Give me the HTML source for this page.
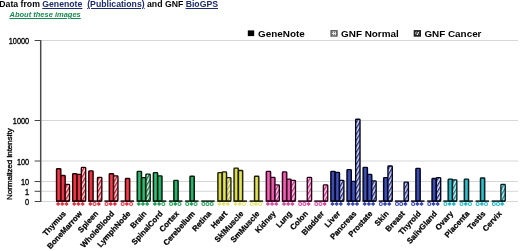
<!DOCTYPE html>
<html><head><meta charset="utf-8"><title>Expression chart</title>
<style>
html,body{margin:0;padding:0;background:#fff;}
body{width:520px;height:251px;overflow:hidden;position:relative;font-family:"Liberation Sans",Arial,sans-serif;}
svg,.hdr,.abt{filter:blur(0.35px);}
svg text{font-family:"Liberation Sans",Arial,sans-serif;}
.hdr{position:absolute;left:-0.7px;top:0px;font-size:8.7px;font-weight:bold;line-height:9px;white-space:pre;color:#000;}
.hdr a{color:#1c2a6e;text-decoration:underline;}
.abt{position:absolute;left:9.5px;top:9.9px;font-size:7.5px;font-weight:bold;font-style:italic;line-height:9px;white-space:pre;}
.abt a{color:#1a8a52;text-decoration:underline;}
</style></head><body>
<svg width="520" height="251" viewBox="0 0 520 251" style="position:absolute;left:0;top:0">
<defs>
<linearGradient id="g_red" x1="0" x2="1" y1="0" y2="0"><stop offset="0" stop-color="#c81428"/><stop offset="0.5" stop-color="#f04050"/><stop offset="1" stop-color="#c81428"/></linearGradient>
<pattern id="h_red" width="3" height="3" patternUnits="userSpaceOnUse" patternTransform="rotate(-60)"><rect width="3" height="3" fill="#fbe0e4"/><rect width="3" height="1.4" fill="#c81428"/></pattern>
<linearGradient id="g_green" x1="0" x2="1" y1="0" y2="0"><stop offset="0" stop-color="#0c7c3c"/><stop offset="0.5" stop-color="#3cbc7c"/><stop offset="1" stop-color="#0c7c3c"/></linearGradient>
<pattern id="h_green" width="3" height="3" patternUnits="userSpaceOnUse" patternTransform="rotate(-60)"><rect width="3" height="3" fill="#dcf2e6"/><rect width="3" height="1.4" fill="#0c7c3c"/></pattern>
<linearGradient id="g_yellow" x1="0" x2="1" y1="0" y2="0"><stop offset="0" stop-color="#b0b028"/><stop offset="0.5" stop-color="#e2e468"/><stop offset="1" stop-color="#b0b028"/></linearGradient>
<pattern id="h_yellow" width="3" height="3" patternUnits="userSpaceOnUse" patternTransform="rotate(-60)"><rect width="3" height="3" fill="#f6f6d8"/><rect width="3" height="1.4" fill="#b0b028"/></pattern>
<linearGradient id="g_mag" x1="0" x2="1" y1="0" y2="0"><stop offset="0" stop-color="#c02c80"/><stop offset="0.5" stop-color="#ee68b4"/><stop offset="1" stop-color="#c02c80"/></linearGradient>
<pattern id="h_mag" width="3" height="3" patternUnits="userSpaceOnUse" patternTransform="rotate(-60)"><rect width="3" height="3" fill="#fbe0ee"/><rect width="3" height="1.4" fill="#c02c80"/></pattern>
<linearGradient id="g_blue" x1="0" x2="1" y1="0" y2="0"><stop offset="0" stop-color="#1c2a84"/><stop offset="0.5" stop-color="#4656b8"/><stop offset="1" stop-color="#1c2a84"/></linearGradient>
<pattern id="h_blue" width="3" height="3" patternUnits="userSpaceOnUse" patternTransform="rotate(-60)"><rect width="3" height="3" fill="#e0e4f8"/><rect width="3" height="1.4" fill="#1c2a84"/></pattern>
<linearGradient id="g_teal" x1="0" x2="1" y1="0" y2="0"><stop offset="0" stop-color="#0c8890"/><stop offset="0.5" stop-color="#38c0c8"/><stop offset="1" stop-color="#0c8890"/></linearGradient>
<pattern id="h_teal" width="3" height="3" patternUnits="userSpaceOnUse" patternTransform="rotate(-60)"><rect width="3" height="3" fill="#d8f2f6"/><rect width="3" height="1.4" fill="#0c8890"/></pattern>
<pattern id="dots" width="2" height="2" patternUnits="userSpaceOnUse"><rect width="2" height="2" fill="#e8e8e8"/><rect width="1" height="1" fill="#777"/></pattern>
<pattern id="hat" width="2.4" height="2.4" patternUnits="userSpaceOnUse" patternTransform="rotate(-60)"><rect width="2.4" height="2.4" fill="#eee"/><rect width="2.4" height="1.3" fill="#333"/></pattern>
</defs>
<line x1="41" x2="518" y1="40.5" y2="40.5" stroke="#d6d6d6" stroke-width="1"/>
<line x1="34.6" x2="41" y1="40.5" y2="40.5" stroke="#444" stroke-width="1"/>
<line x1="41" x2="518" y1="120.5" y2="120.5" stroke="#d6d6d6" stroke-width="1"/>
<line x1="34.6" x2="41" y1="120.5" y2="120.5" stroke="#444" stroke-width="1"/>
<line x1="41" x2="518" y1="161" y2="161" stroke="#d6d6d6" stroke-width="1"/>
<line x1="34.6" x2="41" y1="161" y2="161" stroke="#444" stroke-width="1"/>
<line x1="41" x2="518" y1="181.5" y2="181.5" stroke="#d6d6d6" stroke-width="1"/>
<line x1="34.6" x2="41" y1="181.5" y2="181.5" stroke="#444" stroke-width="1"/>
<line x1="41" x2="518" y1="191.3" y2="191.3" stroke="#d6d6d6" stroke-width="1"/>
<line x1="34.6" x2="41" y1="191.3" y2="191.3" stroke="#444" stroke-width="1"/>
<line x1="41" x2="518" y1="201.5" y2="201.5" stroke="#d6d6d6" stroke-width="1"/>
<line x1="34.6" x2="41" y1="201.5" y2="201.5" stroke="#444" stroke-width="1"/>
<line x1="40.7" x2="40.7" y1="40" y2="202" stroke="#4a4a4a" stroke-width="1.5"/>
<text transform="translate(29.2,44.4) scale(0.82,1)" text-anchor="end" font-size="9" fill="#000" stroke="#000" stroke-width="0.35">10000</text>
<text transform="translate(29.2,124.4) scale(0.82,1)" text-anchor="end" font-size="9" fill="#000" stroke="#000" stroke-width="0.35">1000</text>
<text transform="translate(29.2,164.9) scale(0.82,1)" text-anchor="end" font-size="9" fill="#000" stroke="#000" stroke-width="0.35">100</text>
<text transform="translate(29.2,185.4) scale(0.82,1)" text-anchor="end" font-size="9" fill="#000" stroke="#000" stroke-width="0.35">10</text>
<text transform="translate(29.2,195.20000000000002) scale(0.82,1)" text-anchor="end" font-size="9" fill="#000" stroke="#000" stroke-width="0.35">1</text>
<text transform="translate(29.2,205.4) scale(0.82,1)" text-anchor="end" font-size="9" fill="#000" stroke="#000" stroke-width="0.35">0</text>
<text transform="translate(12.2,199.9) scale(0.92,1) rotate(-90)" font-size="8.2" textLength="71.5" lengthAdjust="spacingAndGlyphs" fill="#000" stroke="#000" stroke-width="0.35">Normalized intensity</text>
<line x1="56.00" x2="69.45" y1="201.1" y2="201.1" stroke="#240004" stroke-width="1.5"/>
<rect x="56.50" y="168.70" width="4.35" height="32.30" rx="0.8" fill="url(#g_red)" stroke="#240004" stroke-width="1.35"/>
<path d="M58.10 201.7 l2.2 2.2 l-2.2 2.2 l-2.2 -2.2z" fill="#e83040"/>
<rect x="60.85" y="175.50" width="4.35" height="25.50" rx="0.8" fill="url(#g_red)" stroke="#240004" stroke-width="1.35"/>
<path d="M62.30 201.7 l2.2 2.2 l-2.2 2.2 l-2.2 -2.2z" fill="#e83040"/>
<rect x="65.20" y="184.40" width="4.35" height="16.60" rx="0.8" fill="url(#h_red)" stroke="#240004" stroke-width="1.35"/>
<path d="M66.50 201.7 l2.2 2.2 l-2.2 2.2 l-2.2 -2.2z" fill="#e83040"/>
<text transform="translate(66.40,214.0) rotate(-48)" text-anchor="end" font-size="7.9" font-weight="bold" fill="#000" stroke="#000" stroke-width="0.25">Thymus</text>
<line x1="72.14" x2="85.59" y1="201.1" y2="201.1" stroke="#240004" stroke-width="1.5"/>
<rect x="72.64" y="173.70" width="4.35" height="27.30" rx="0.8" fill="url(#g_red)" stroke="#240004" stroke-width="1.35"/>
<path d="M74.24 201.7 l2.2 2.2 l-2.2 2.2 l-2.2 -2.2z" fill="#e83040"/>
<rect x="76.99" y="174.40" width="4.35" height="26.60" rx="0.8" fill="url(#g_red)" stroke="#240004" stroke-width="1.35"/>
<path d="M78.44 201.7 l2.2 2.2 l-2.2 2.2 l-2.2 -2.2z" fill="#e83040"/>
<rect x="81.34" y="167.30" width="4.35" height="33.70" rx="0.8" fill="url(#h_red)" stroke="#240004" stroke-width="1.35"/>
<path d="M82.64 201.7 l2.2 2.2 l-2.2 2.2 l-2.2 -2.2z" fill="#e83040"/>
<text transform="translate(82.54,214.0) rotate(-48)" text-anchor="end" font-size="7.9" font-weight="bold" fill="#000" stroke="#000" stroke-width="0.25">BoneMarrow</text>
<line x1="88.27" x2="101.72" y1="201.1" y2="201.1" stroke="#240004" stroke-width="1.5"/>
<rect x="88.77" y="170.80" width="4.35" height="30.20" rx="0.8" fill="url(#g_red)" stroke="#240004" stroke-width="1.35"/>
<path d="M90.37 201.7 l2.2 2.2 l-2.2 2.2 l-2.2 -2.2z" fill="#e83040"/>
<circle cx="94.57" cy="203.9" r="1.5" fill="#fff" stroke="#e83040" stroke-width="1.05"/>
<rect x="97.47" y="177.30" width="4.35" height="23.70" rx="0.8" fill="url(#h_red)" stroke="#240004" stroke-width="1.35"/>
<path d="M98.77 201.7 l2.2 2.2 l-2.2 2.2 l-2.2 -2.2z" fill="#e83040"/>
<text transform="translate(98.67,214.0) rotate(-48)" text-anchor="end" font-size="7.9" font-weight="bold" fill="#000" stroke="#000" stroke-width="0.25">Spleen</text>
<line x1="104.41" x2="117.86" y1="201.1" y2="201.1" stroke="#240004" stroke-width="1.5"/>
<circle cx="106.51" cy="203.9" r="1.5" fill="#fff" stroke="#e83040" stroke-width="1.05"/>
<rect x="109.26" y="173.70" width="4.35" height="27.30" rx="0.8" fill="url(#g_red)" stroke="#240004" stroke-width="1.35"/>
<path d="M110.71 201.7 l2.2 2.2 l-2.2 2.2 l-2.2 -2.2z" fill="#e83040"/>
<rect x="113.61" y="175.80" width="4.35" height="25.20" rx="0.8" fill="url(#h_red)" stroke="#240004" stroke-width="1.35"/>
<path d="M114.91 201.7 l2.2 2.2 l-2.2 2.2 l-2.2 -2.2z" fill="#e83040"/>
<text transform="translate(114.81,214.0) rotate(-48)" text-anchor="end" font-size="7.9" font-weight="bold" fill="#000" stroke="#000" stroke-width="0.25">WholeBlood</text>
<line x1="120.55" x2="134.00" y1="201.1" y2="201.1" stroke="#240004" stroke-width="1.5"/>
<circle cx="122.65" cy="203.9" r="1.5" fill="#fff" stroke="#e83040" stroke-width="1.05"/>
<rect x="125.40" y="178.50" width="4.35" height="22.50" rx="0.8" fill="url(#g_red)" stroke="#240004" stroke-width="1.35"/>
<path d="M126.85 201.7 l2.2 2.2 l-2.2 2.2 l-2.2 -2.2z" fill="#e83040"/>
<circle cx="131.05" cy="203.9" r="1.5" fill="#fff" stroke="#e83040" stroke-width="1.05"/>
<text transform="translate(130.95,214.0) rotate(-48)" text-anchor="end" font-size="7.9" font-weight="bold" fill="#000" stroke="#000" stroke-width="0.25">LymphNode</text>
<line x1="136.69" x2="150.14" y1="201.1" y2="201.1" stroke="#021c0a" stroke-width="1.5"/>
<rect x="137.19" y="171.30" width="4.35" height="29.70" rx="0.8" fill="url(#g_green)" stroke="#021c0a" stroke-width="1.35"/>
<path d="M138.78 201.7 l2.2 2.2 l-2.2 2.2 l-2.2 -2.2z" fill="#20a058"/>
<rect x="141.53" y="177.60" width="4.35" height="23.40" rx="0.8" fill="url(#g_green)" stroke="#021c0a" stroke-width="1.35"/>
<path d="M142.98 201.7 l2.2 2.2 l-2.2 2.2 l-2.2 -2.2z" fill="#20a058"/>
<rect x="145.88" y="174.05" width="4.35" height="26.95" rx="0.8" fill="url(#h_green)" stroke="#021c0a" stroke-width="1.35"/>
<path d="M147.19 201.7 l2.2 2.2 l-2.2 2.2 l-2.2 -2.2z" fill="#20a058"/>
<text transform="translate(147.09,214.0) rotate(-48)" text-anchor="end" font-size="7.9" font-weight="bold" fill="#000" stroke="#000" stroke-width="0.25">Brain</text>
<line x1="152.82" x2="166.27" y1="201.1" y2="201.1" stroke="#021c0a" stroke-width="1.5"/>
<rect x="153.32" y="172.60" width="4.35" height="28.40" rx="0.8" fill="url(#g_green)" stroke="#021c0a" stroke-width="1.35"/>
<path d="M154.92 201.7 l2.2 2.2 l-2.2 2.2 l-2.2 -2.2z" fill="#20a058"/>
<rect x="157.67" y="175.80" width="4.35" height="25.20" rx="0.8" fill="url(#g_green)" stroke="#021c0a" stroke-width="1.35"/>
<path d="M159.12 201.7 l2.2 2.2 l-2.2 2.2 l-2.2 -2.2z" fill="#20a058"/>
<circle cx="163.32" cy="203.9" r="1.5" fill="#fff" stroke="#20a058" stroke-width="1.05"/>
<text transform="translate(163.22,214.0) rotate(-48)" text-anchor="end" font-size="7.9" font-weight="bold" fill="#000" stroke="#000" stroke-width="0.25">SpinalCord</text>
<line x1="168.96" x2="182.41" y1="201.1" y2="201.1" stroke="#021c0a" stroke-width="1.5"/>
<circle cx="171.06" cy="203.9" r="1.5" fill="#fff" stroke="#20a058" stroke-width="1.05"/>
<rect x="173.81" y="180.30" width="4.35" height="20.70" rx="0.8" fill="url(#g_green)" stroke="#021c0a" stroke-width="1.35"/>
<path d="M175.26 201.7 l2.2 2.2 l-2.2 2.2 l-2.2 -2.2z" fill="#20a058"/>
<circle cx="179.46" cy="203.9" r="1.5" fill="#fff" stroke="#20a058" stroke-width="1.05"/>
<text transform="translate(179.36,214.0) rotate(-48)" text-anchor="end" font-size="7.9" font-weight="bold" fill="#000" stroke="#000" stroke-width="0.25">Cortex</text>
<line x1="185.10" x2="198.55" y1="201.1" y2="201.1" stroke="#021c0a" stroke-width="1.5"/>
<circle cx="187.20" cy="203.9" r="1.5" fill="#fff" stroke="#20a058" stroke-width="1.05"/>
<rect x="189.95" y="176.20" width="4.35" height="24.80" rx="0.8" fill="url(#g_green)" stroke="#021c0a" stroke-width="1.35"/>
<path d="M191.40 201.7 l2.2 2.2 l-2.2 2.2 l-2.2 -2.2z" fill="#20a058"/>
<circle cx="195.60" cy="203.9" r="1.5" fill="#fff" stroke="#20a058" stroke-width="1.05"/>
<text transform="translate(195.50,214.0) rotate(-48)" text-anchor="end" font-size="7.9" font-weight="bold" fill="#000" stroke="#000" stroke-width="0.25">Cerebellum</text>
<line x1="201.23" x2="214.68" y1="201.1" y2="201.1" stroke="#021c0a" stroke-width="1.5"/>
<circle cx="203.33" cy="203.9" r="1.5" fill="#fff" stroke="#20a058" stroke-width="1.05"/>
<circle cx="207.53" cy="203.9" r="1.5" fill="#fff" stroke="#20a058" stroke-width="1.05"/>
<circle cx="211.73" cy="203.9" r="1.5" fill="#fff" stroke="#20a058" stroke-width="1.05"/>
<text transform="translate(211.63,214.0) rotate(-48)" text-anchor="end" font-size="7.9" font-weight="bold" fill="#000" stroke="#000" stroke-width="0.25">Retina</text>
<line x1="217.37" x2="230.82" y1="201.1" y2="201.1" stroke="#1c1c00" stroke-width="1.5"/>
<rect x="217.87" y="172.60" width="4.35" height="28.40" rx="0.8" fill="url(#g_yellow)" stroke="#1c1c00" stroke-width="1.35"/>
<path d="M219.47 201.7 l2.2 2.2 l-2.2 2.2 l-2.2 -2.2z" fill="#e2e26c"/>
<rect x="222.22" y="171.90" width="4.35" height="29.10" rx="0.8" fill="url(#g_yellow)" stroke="#1c1c00" stroke-width="1.35"/>
<path d="M223.67 201.7 l2.2 2.2 l-2.2 2.2 l-2.2 -2.2z" fill="#e2e26c"/>
<rect x="226.57" y="177.60" width="4.35" height="23.40" rx="0.8" fill="url(#h_yellow)" stroke="#1c1c00" stroke-width="1.35"/>
<path d="M227.87 201.7 l2.2 2.2 l-2.2 2.2 l-2.2 -2.2z" fill="#e2e26c"/>
<text transform="translate(227.77,214.0) rotate(-48)" text-anchor="end" font-size="7.9" font-weight="bold" fill="#000" stroke="#000" stroke-width="0.25">Heart</text>
<line x1="233.51" x2="246.96" y1="201.1" y2="201.1" stroke="#1c1c00" stroke-width="1.5"/>
<rect x="234.01" y="168.10" width="4.35" height="32.90" rx="0.8" fill="url(#g_yellow)" stroke="#1c1c00" stroke-width="1.35"/>
<path d="M235.61 201.7 l2.2 2.2 l-2.2 2.2 l-2.2 -2.2z" fill="#e2e26c"/>
<rect x="238.36" y="170.50" width="4.35" height="30.50" rx="0.8" fill="url(#g_yellow)" stroke="#1c1c00" stroke-width="1.35"/>
<path d="M239.81 201.7 l2.2 2.2 l-2.2 2.2 l-2.2 -2.2z" fill="#e2e26c"/>
<circle cx="244.01" cy="203.9" r="1.5" fill="#fff" stroke="#e2e26c" stroke-width="1.05"/>
<text transform="translate(243.91,214.0) rotate(-48)" text-anchor="end" font-size="7.9" font-weight="bold" fill="#000" stroke="#000" stroke-width="0.25">SklMuscle</text>
<line x1="249.64" x2="263.09" y1="201.1" y2="201.1" stroke="#1c1c00" stroke-width="1.5"/>
<circle cx="251.74" cy="203.9" r="1.5" fill="#fff" stroke="#e2e26c" stroke-width="1.05"/>
<rect x="254.49" y="176.20" width="4.35" height="24.80" rx="0.8" fill="url(#g_yellow)" stroke="#1c1c00" stroke-width="1.35"/>
<path d="M255.94 201.7 l2.2 2.2 l-2.2 2.2 l-2.2 -2.2z" fill="#e2e26c"/>
<circle cx="260.14" cy="203.9" r="1.5" fill="#fff" stroke="#e2e26c" stroke-width="1.05"/>
<text transform="translate(260.04,214.0) rotate(-48)" text-anchor="end" font-size="7.9" font-weight="bold" fill="#000" stroke="#000" stroke-width="0.25">SmMuscle</text>
<line x1="265.78" x2="279.23" y1="201.1" y2="201.1" stroke="#2c001c" stroke-width="1.5"/>
<rect x="266.28" y="171.30" width="4.35" height="29.70" rx="0.8" fill="url(#g_mag)" stroke="#2c001c" stroke-width="1.35"/>
<path d="M267.88 201.7 l2.2 2.2 l-2.2 2.2 l-2.2 -2.2z" fill="#e048a0"/>
<rect x="270.63" y="177.30" width="4.35" height="23.70" rx="0.8" fill="url(#g_mag)" stroke="#2c001c" stroke-width="1.35"/>
<path d="M272.08 201.7 l2.2 2.2 l-2.2 2.2 l-2.2 -2.2z" fill="#e048a0"/>
<rect x="274.98" y="184.80" width="4.35" height="16.20" rx="0.8" fill="url(#h_mag)" stroke="#2c001c" stroke-width="1.35"/>
<path d="M276.28 201.7 l2.2 2.2 l-2.2 2.2 l-2.2 -2.2z" fill="#e048a0"/>
<text transform="translate(276.18,214.0) rotate(-48)" text-anchor="end" font-size="7.9" font-weight="bold" fill="#000" stroke="#000" stroke-width="0.25">Kidney</text>
<line x1="281.92" x2="295.37" y1="201.1" y2="201.1" stroke="#2c001c" stroke-width="1.5"/>
<rect x="282.42" y="171.90" width="4.35" height="29.10" rx="0.8" fill="url(#g_mag)" stroke="#2c001c" stroke-width="1.35"/>
<path d="M284.02 201.7 l2.2 2.2 l-2.2 2.2 l-2.2 -2.2z" fill="#e048a0"/>
<rect x="286.77" y="179.10" width="4.35" height="21.90" rx="0.8" fill="url(#g_mag)" stroke="#2c001c" stroke-width="1.35"/>
<path d="M288.22 201.7 l2.2 2.2 l-2.2 2.2 l-2.2 -2.2z" fill="#e048a0"/>
<rect x="291.12" y="180.30" width="4.35" height="20.70" rx="0.8" fill="url(#h_mag)" stroke="#2c001c" stroke-width="1.35"/>
<path d="M292.42 201.7 l2.2 2.2 l-2.2 2.2 l-2.2 -2.2z" fill="#e048a0"/>
<text transform="translate(292.32,214.0) rotate(-48)" text-anchor="end" font-size="7.9" font-weight="bold" fill="#000" stroke="#000" stroke-width="0.25">Lung</text>
<line x1="298.06" x2="311.50" y1="201.1" y2="201.1" stroke="#2c001c" stroke-width="1.5"/>
<circle cx="300.16" cy="203.9" r="1.5" fill="#fff" stroke="#e048a0" stroke-width="1.05"/>
<circle cx="304.36" cy="203.9" r="1.5" fill="#fff" stroke="#e048a0" stroke-width="1.05"/>
<rect x="307.25" y="177.30" width="4.35" height="23.70" rx="0.8" fill="url(#h_mag)" stroke="#2c001c" stroke-width="1.35"/>
<path d="M308.56 201.7 l2.2 2.2 l-2.2 2.2 l-2.2 -2.2z" fill="#e048a0"/>
<text transform="translate(308.45,214.0) rotate(-48)" text-anchor="end" font-size="7.9" font-weight="bold" fill="#000" stroke="#000" stroke-width="0.25">Colon</text>
<line x1="314.19" x2="327.64" y1="201.1" y2="201.1" stroke="#2c001c" stroke-width="1.5"/>
<circle cx="316.29" cy="203.9" r="1.5" fill="#fff" stroke="#e048a0" stroke-width="1.05"/>
<circle cx="320.49" cy="203.9" r="1.5" fill="#fff" stroke="#e048a0" stroke-width="1.05"/>
<rect x="323.39" y="184.80" width="4.35" height="16.20" rx="0.8" fill="url(#h_mag)" stroke="#2c001c" stroke-width="1.35"/>
<path d="M324.69 201.7 l2.2 2.2 l-2.2 2.2 l-2.2 -2.2z" fill="#e048a0"/>
<text transform="translate(324.59,214.0) rotate(-48)" text-anchor="end" font-size="7.9" font-weight="bold" fill="#000" stroke="#000" stroke-width="0.25">Bladder</text>
<line x1="330.33" x2="343.78" y1="201.1" y2="201.1" stroke="#04041c" stroke-width="1.5"/>
<rect x="330.83" y="171.30" width="4.35" height="29.70" rx="0.8" fill="url(#g_blue)" stroke="#04041c" stroke-width="1.35"/>
<path d="M332.43 201.7 l2.2 2.2 l-2.2 2.2 l-2.2 -2.2z" fill="#3444b0"/>
<rect x="335.18" y="172.30" width="4.35" height="28.70" rx="0.8" fill="url(#g_blue)" stroke="#04041c" stroke-width="1.35"/>
<path d="M336.63 201.7 l2.2 2.2 l-2.2 2.2 l-2.2 -2.2z" fill="#3444b0"/>
<rect x="339.53" y="180.30" width="4.35" height="20.70" rx="0.8" fill="url(#h_blue)" stroke="#04041c" stroke-width="1.35"/>
<path d="M340.83 201.7 l2.2 2.2 l-2.2 2.2 l-2.2 -2.2z" fill="#3444b0"/>
<text transform="translate(340.73,214.0) rotate(-48)" text-anchor="end" font-size="7.9" font-weight="bold" fill="#000" stroke="#000" stroke-width="0.25">Liver</text>
<line x1="346.47" x2="359.92" y1="201.1" y2="201.1" stroke="#04041c" stroke-width="1.5"/>
<rect x="346.97" y="169.60" width="4.35" height="31.40" rx="0.8" fill="url(#g_blue)" stroke="#04041c" stroke-width="1.35"/>
<path d="M348.57 201.7 l2.2 2.2 l-2.2 2.2 l-2.2 -2.2z" fill="#3444b0"/>
<rect x="351.32" y="181.30" width="4.35" height="19.70" rx="0.8" fill="url(#g_blue)" stroke="#04041c" stroke-width="1.35"/>
<path d="M352.77 201.7 l2.2 2.2 l-2.2 2.2 l-2.2 -2.2z" fill="#3444b0"/>
<rect x="355.67" y="119.20" width="4.35" height="81.80" rx="0.8" fill="url(#h_blue)" stroke="#04041c" stroke-width="1.35"/>
<path d="M356.97 201.7 l2.2 2.2 l-2.2 2.2 l-2.2 -2.2z" fill="#3444b0"/>
<text transform="translate(356.87,214.0) rotate(-48)" text-anchor="end" font-size="7.9" font-weight="bold" fill="#000" stroke="#000" stroke-width="0.25">Pancreas</text>
<line x1="362.60" x2="376.05" y1="201.1" y2="201.1" stroke="#04041c" stroke-width="1.5"/>
<rect x="363.10" y="167.30" width="4.35" height="33.70" rx="0.8" fill="url(#g_blue)" stroke="#04041c" stroke-width="1.35"/>
<path d="M364.70 201.7 l2.2 2.2 l-2.2 2.2 l-2.2 -2.2z" fill="#3444b0"/>
<rect x="367.45" y="174.40" width="4.35" height="26.60" rx="0.8" fill="url(#g_blue)" stroke="#04041c" stroke-width="1.35"/>
<path d="M368.90 201.7 l2.2 2.2 l-2.2 2.2 l-2.2 -2.2z" fill="#3444b0"/>
<rect x="371.80" y="180.90" width="4.35" height="20.10" rx="0.8" fill="url(#h_blue)" stroke="#04041c" stroke-width="1.35"/>
<path d="M373.10 201.7 l2.2 2.2 l-2.2 2.2 l-2.2 -2.2z" fill="#3444b0"/>
<text transform="translate(373.00,214.0) rotate(-48)" text-anchor="end" font-size="7.9" font-weight="bold" fill="#000" stroke="#000" stroke-width="0.25">Prostate</text>
<line x1="378.74" x2="392.19" y1="201.1" y2="201.1" stroke="#04041c" stroke-width="1.5"/>
<circle cx="380.84" cy="203.9" r="1.5" fill="#fff" stroke="#3444b0" stroke-width="1.05"/>
<rect x="383.59" y="177.60" width="4.35" height="23.40" rx="0.8" fill="url(#g_blue)" stroke="#04041c" stroke-width="1.35"/>
<path d="M385.04 201.7 l2.2 2.2 l-2.2 2.2 l-2.2 -2.2z" fill="#3444b0"/>
<rect x="387.94" y="166.00" width="4.35" height="35.00" rx="0.8" fill="url(#h_blue)" stroke="#04041c" stroke-width="1.35"/>
<path d="M389.24 201.7 l2.2 2.2 l-2.2 2.2 l-2.2 -2.2z" fill="#3444b0"/>
<text transform="translate(389.14,214.0) rotate(-48)" text-anchor="end" font-size="7.9" font-weight="bold" fill="#000" stroke="#000" stroke-width="0.25">Skin</text>
<line x1="394.88" x2="408.33" y1="201.1" y2="201.1" stroke="#04041c" stroke-width="1.5"/>
<circle cx="396.98" cy="203.9" r="1.5" fill="#fff" stroke="#3444b0" stroke-width="1.05"/>
<circle cx="401.18" cy="203.9" r="1.5" fill="#fff" stroke="#3444b0" stroke-width="1.05"/>
<rect x="404.08" y="182.10" width="4.35" height="18.90" rx="0.8" fill="url(#h_blue)" stroke="#04041c" stroke-width="1.35"/>
<path d="M405.38 201.7 l2.2 2.2 l-2.2 2.2 l-2.2 -2.2z" fill="#3444b0"/>
<text transform="translate(405.28,214.0) rotate(-48)" text-anchor="end" font-size="7.9" font-weight="bold" fill="#000" stroke="#000" stroke-width="0.25">Breast</text>
<line x1="411.01" x2="424.46" y1="201.1" y2="201.1" stroke="#04041c" stroke-width="1.5"/>
<circle cx="413.11" cy="203.9" r="1.5" fill="#fff" stroke="#3444b0" stroke-width="1.05"/>
<rect x="415.86" y="168.30" width="4.35" height="32.70" rx="0.8" fill="url(#g_blue)" stroke="#04041c" stroke-width="1.35"/>
<path d="M417.31 201.7 l2.2 2.2 l-2.2 2.2 l-2.2 -2.2z" fill="#3444b0"/>
<path d="M421.51 201.7 l2.2 2.2 l-2.2 2.2 l-2.2 -2.2z" fill="#3444b0"/>
<text transform="translate(421.41,214.0) rotate(-48)" text-anchor="end" font-size="7.9" font-weight="bold" fill="#000" stroke="#000" stroke-width="0.25">Thyroid</text>
<line x1="427.15" x2="440.60" y1="201.1" y2="201.1" stroke="#04041c" stroke-width="1.5"/>
<circle cx="429.25" cy="203.9" r="1.5" fill="#fff" stroke="#3444b0" stroke-width="1.05"/>
<rect x="432.00" y="178.50" width="4.35" height="22.50" rx="0.8" fill="url(#g_blue)" stroke="#04041c" stroke-width="1.35"/>
<path d="M433.45 201.7 l2.2 2.2 l-2.2 2.2 l-2.2 -2.2z" fill="#3444b0"/>
<rect x="436.35" y="177.60" width="4.35" height="23.40" rx="0.8" fill="url(#h_blue)" stroke="#04041c" stroke-width="1.35"/>
<path d="M437.65 201.7 l2.2 2.2 l-2.2 2.2 l-2.2 -2.2z" fill="#3444b0"/>
<text transform="translate(437.55,214.0) rotate(-48)" text-anchor="end" font-size="7.9" font-weight="bold" fill="#000" stroke="#000" stroke-width="0.25">SalivGland</text>
<line x1="443.29" x2="456.74" y1="201.1" y2="201.1" stroke="#001c20" stroke-width="1.5"/>
<circle cx="445.39" cy="203.9" r="1.5" fill="#fff" stroke="#20b8c4" stroke-width="1.05"/>
<rect x="448.14" y="179.10" width="4.35" height="21.90" rx="0.8" fill="url(#g_teal)" stroke="#001c20" stroke-width="1.35"/>
<path d="M449.59 201.7 l2.2 2.2 l-2.2 2.2 l-2.2 -2.2z" fill="#20b8c4"/>
<rect x="452.49" y="179.80" width="4.35" height="21.20" rx="0.8" fill="url(#h_teal)" stroke="#001c20" stroke-width="1.35"/>
<path d="M453.79 201.7 l2.2 2.2 l-2.2 2.2 l-2.2 -2.2z" fill="#20b8c4"/>
<text transform="translate(453.69,214.0) rotate(-48)" text-anchor="end" font-size="7.9" font-weight="bold" fill="#000" stroke="#000" stroke-width="0.25">Ovary</text>
<line x1="459.43" x2="472.88" y1="201.1" y2="201.1" stroke="#001c20" stroke-width="1.5"/>
<circle cx="461.53" cy="203.9" r="1.5" fill="#fff" stroke="#20b8c4" stroke-width="1.05"/>
<rect x="464.28" y="179.10" width="4.35" height="21.90" rx="0.8" fill="url(#g_teal)" stroke="#001c20" stroke-width="1.35"/>
<path d="M465.73 201.7 l2.2 2.2 l-2.2 2.2 l-2.2 -2.2z" fill="#20b8c4"/>
<circle cx="469.93" cy="203.9" r="1.5" fill="#fff" stroke="#20b8c4" stroke-width="1.05"/>
<text transform="translate(469.82,214.0) rotate(-48)" text-anchor="end" font-size="7.9" font-weight="bold" fill="#000" stroke="#000" stroke-width="0.25">Placenta</text>
<line x1="475.56" x2="489.01" y1="201.1" y2="201.1" stroke="#001c20" stroke-width="1.5"/>
<circle cx="477.66" cy="203.9" r="1.5" fill="#fff" stroke="#20b8c4" stroke-width="1.05"/>
<rect x="480.41" y="178.00" width="4.35" height="23.00" rx="0.8" fill="url(#g_teal)" stroke="#001c20" stroke-width="1.35"/>
<path d="M481.86 201.7 l2.2 2.2 l-2.2 2.2 l-2.2 -2.2z" fill="#20b8c4"/>
<circle cx="486.06" cy="203.9" r="1.5" fill="#fff" stroke="#20b8c4" stroke-width="1.05"/>
<text transform="translate(485.96,214.0) rotate(-48)" text-anchor="end" font-size="7.9" font-weight="bold" fill="#000" stroke="#000" stroke-width="0.25">Testis</text>
<line x1="491.70" x2="505.15" y1="201.1" y2="201.1" stroke="#001c20" stroke-width="1.5"/>
<circle cx="493.80" cy="203.9" r="1.5" fill="#fff" stroke="#20b8c4" stroke-width="1.05"/>
<circle cx="498.00" cy="203.9" r="1.5" fill="#fff" stroke="#20b8c4" stroke-width="1.05"/>
<rect x="500.90" y="184.40" width="4.35" height="16.60" rx="0.8" fill="url(#h_teal)" stroke="#001c20" stroke-width="1.35"/>
<path d="M502.20 201.7 l2.2 2.2 l-2.2 2.2 l-2.2 -2.2z" fill="#20b8c4"/>
<text transform="translate(502.10,214.0) rotate(-48)" text-anchor="end" font-size="7.9" font-weight="bold" fill="#000" stroke="#000" stroke-width="0.25">Cervix</text>
<rect x="247.8" y="30.4" width="6.4" height="5.7" fill="#000"/>
<text x="258.1" y="37.3" font-size="9.9" font-weight="bold">GeneNote</text>
<rect x="331.1" y="30.8" width="5.9" height="5.2" fill="url(#dots)" stroke="#4a4a4a" stroke-width="1.3"/>
<text x="341.1" y="37.3" font-size="9.9" font-weight="bold">GNF Normal</text>
<rect x="414.5" y="30.9" width="5.7" height="5.0" fill="url(#hat)" stroke="#1c1c1c" stroke-width="1.6"/>
<text x="424.4" y="37.3" font-size="9.9" font-weight="bold">GNF Cancer</text>
</svg>
<div class="hdr">Data from <a>Genenote</a>  <a>(Publications)</a> and GNF <a>BioGPS</a></div>
<div class="abt"><a>About these images</a></div>
</body></html>
